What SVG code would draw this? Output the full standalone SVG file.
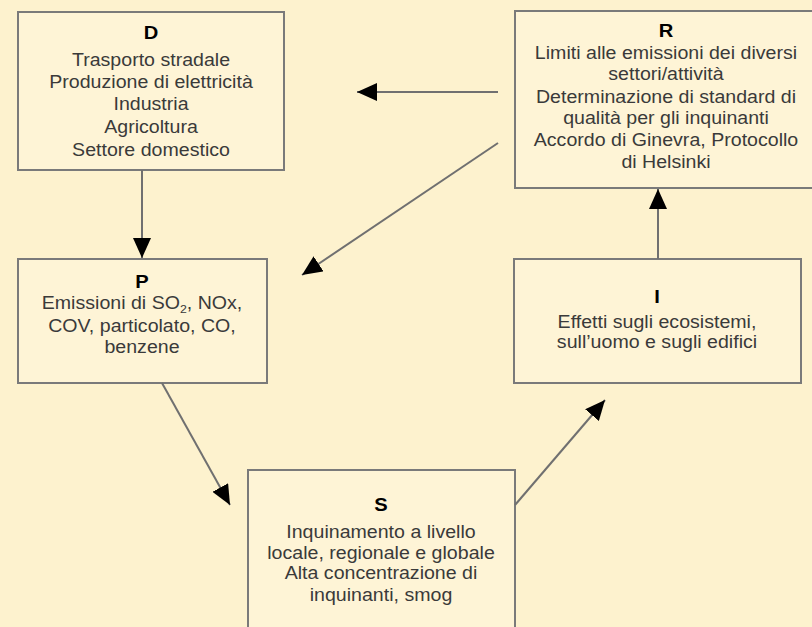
<svg xmlns="http://www.w3.org/2000/svg" width="812" height="627" viewBox="0 0 812 627">
  <defs>
    <marker id="ah" markerUnits="userSpaceOnUse" markerWidth="21" markerHeight="18" refX="20" refY="9" orient="auto">
      <path d="M0,0 L20,9 L0,18 z" fill="#000"/>
    </marker>
    <style>
      .box { fill: #FEF4D6; stroke: #7a7a7a; stroke-width: 2; }
      .t { font-family: "Liberation Sans", Arial, sans-serif; font-size: 17.5px; fill: #3a3a3a; text-anchor: middle; }
      .h { font-family: "Liberation Sans", Arial, sans-serif; font-size: 18px; font-weight: bold; fill: #000; text-anchor: middle; }
      .c { fill: none; stroke: #707070; stroke-width: 2; marker-end: url(#ah); }
    </style>
  </defs>
  <rect width="812" height="627" fill="#FDF2CE"/>

  <g id="D">
    <rect class="box" x="18" y="12" width="266" height="158"/>
    <g transform="translate(151 0) scale(1.12 1)">
      <text class="h" x="0" y="39">D</text>
      <text class="t" x="0" y="66">Trasporto stradale</text>
      <text class="t" x="0" y="88">Produzione di elettricità</text>
      <text class="t" x="0" y="110">Industria</text>
      <text class="t" x="0" y="133">Agricoltura</text>
      <text class="t" x="0" y="156">Settore domestico</text>
    </g>
  </g>

  <g id="R">
    <rect class="box" x="515" y="11" width="310" height="177"/>
    <g transform="translate(666 0) scale(1.12 1)">
      <text class="h" x="0" y="37">R</text>
      <text class="t" x="0" y="59">Limiti alle emissioni dei diversi</text>
      <text class="t" x="0" y="80">settori/attività</text>
      <text class="t" x="0" y="103">Determinazione di standard di</text>
      <text class="t" x="0" y="124">qualità per gli inquinanti</text>
      <text class="t" x="0" y="146">Accordo di Ginevra, Protocollo</text>
      <text class="t" x="0" y="168">di Helsinki</text>
    </g>
  </g>

  <g id="P">
    <rect class="box" x="18" y="259" width="249" height="124"/>
    <g transform="translate(142 0) scale(1.12 1)">
      <text class="h" x="0" y="288">P</text>
      <text class="t" x="0" y="309">Emissioni di SO<tspan font-size="11" dy="4">2</tspan><tspan dy="-4">, NOx,</tspan></text>
      <text class="t" x="0" y="332">COV, particolato, CO,</text>
      <text class="t" x="0" y="353">benzene</text>
    </g>
  </g>

  <g id="I">
    <rect class="box" x="514" y="259" width="287" height="124"/>
    <g transform="translate(657 0) scale(1.12 1)">
      <text class="h" x="0" y="303">I</text>
      <text class="t" x="0" y="328">Effetti sugli ecosistemi,</text>
      <text class="t" x="0" y="348">sull’uomo e sugli edifici</text>
    </g>
  </g>

  <g id="S">
    <rect class="box" x="248" y="470" width="267" height="180"/>
    <g transform="translate(381 0) scale(1.12 1)">
      <text class="h" x="0" y="511">S</text>
      <text class="t" x="0" y="538">Inquinamento a livello</text>
      <text class="t" x="0" y="559">locale, regionale e globale</text>
      <text class="t" x="0" y="579">Alta concentrazione di</text>
      <text class="t" x="0" y="601">inquinanti, smog</text>
    </g>
  </g>

  <g id="connectors">
    <line class="c" x1="142" y1="170" x2="142" y2="258"/>
    <line class="c" x1="498" y1="92" x2="357" y2="92"/>
    <line class="c" x1="498" y1="143" x2="302" y2="275"/>
    <line class="c" x1="162" y1="383" x2="230" y2="505"/>
    <line class="c" x1="515" y1="505" x2="605" y2="400"/>
    <line class="c" x1="658" y1="259" x2="658" y2="189"/>
  </g>
</svg>
